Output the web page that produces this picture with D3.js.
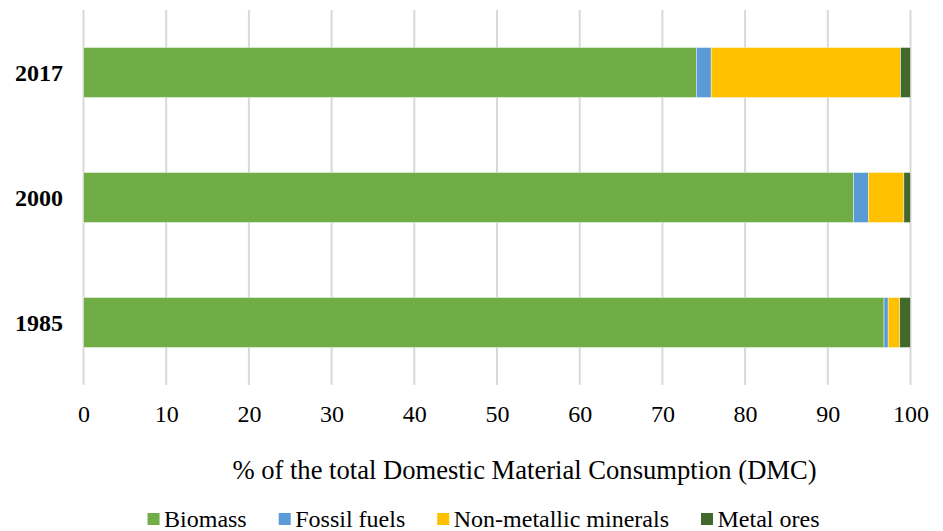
<!DOCTYPE html>
<html>
<head>
<meta charset="utf-8">
<script src="https://cdn.jsdelivr.net/npm/d3@7"></script>
<style>
  html, body { margin: 0; padding: 0; background: #fff; }
  svg { display: block; }
  text { font-family: "Liberation Serif", "Times New Roman", serif; fill: #000; }
</style>
</head>
<body>
<svg id="chart" width="943" height="531"></svg>
<script>
// ---- data ----
const years = ["2017", "2000", "1985"];
const seriesNames = ["Biomass", "Fossil fuels", "Non-metallic minerals", "Metal ores"];
const biomass     = [74.1, 93.1, 96.8];
const fossilFuels = [1.8, 1.8, 0.5];
const nonMetallic = [22.9, 4.3, 1.4];
const metalOres   = [1.2, 0.8, 1.3];
const tickValues  = [0, 10, 20, 30, 40, 50, 60, 70, 80, 90, 100];
const axisTitle   = "% of the total Domestic Material Consumption (DMC)";

// ---- styles ----
const colors = ["#70AD47", "#5B9BD5", "#FFC000", "#43682B"];
const FONT = '"Liberation Serif", "Times New Roman", serif';

const rows = years.map((y, i) => ({
  year: y,
  "Biomass": biomass[i],
  "Fossil fuels": fossilFuels[i],
  "Non-metallic minerals": nonMetallic[i],
  "Metal ores": metalOres[i]
}));

const svg = d3.select("#chart");
const plot = { left: 83.5, right: 910.5, top: 10, bottom: 385 };

const x = d3.scaleLinear().domain([0, 100]).range([plot.left, plot.right]);
const y = d3.scaleBand().domain(years).range([plot.top, plot.bottom])
  .paddingInner(0.6).paddingOuter(0.3);
const color = d3.scaleOrdinal().domain(seriesNames).range(colors);

// gridlines
svg.append("g").selectAll("line").data(tickValues).join("line")
  .attr("x1", d => x(d)).attr("x2", d => x(d))
  .attr("y1", plot.top).attr("y2", plot.bottom)
  .attr("stroke", "#d9d9d9").attr("stroke-width", 2);

// stacked bars
const stack = d3.stack().keys(seriesNames)(rows);
svg.append("g").selectAll("g").data(stack).join("g")
  .attr("fill", d => color(d.key))
  .selectAll("rect").data(d => d).join("rect")
  .attr("x", d => x(d[0]))
  .attr("width", d => x(d[1]) - x(d[0]))
  .attr("y", d => y(d.data.year))
  .attr("height", y.bandwidth())
  .attr("stroke", "#ffffff").attr("stroke-width", 0.6).attr("stroke-opacity", 0.7);

// x axis (labels only)
const xAxis = d3.axisBottom(x).tickValues(tickValues).tickSize(0).tickPadding(0);
const gx = svg.append("g").attr("transform", `translate(0,${plot.bottom})`).call(xAxis);
gx.attr("font-family", null).attr("font-size", null);
gx.select(".domain").remove();
gx.selectAll("text")
  .attr("dy", null).attr("y", 37)
  .style("font-family", FONT)
  .style("font-size", "24px").attr("fill", "#000");

// y axis (year labels)
const yAxis = d3.axisLeft(y).tickSize(0).tickPadding(0);
const gy = svg.append("g").attr("transform", `translate(63,0)`).call(yAxis);
gy.attr("font-family", null).attr("font-size", null);
gy.select(".domain").remove();
gy.selectAll("text")
  .attr("dy", null).attr("y", 8.5).attr("x", 0)
  .style("font-family", FONT)
  .style("font-size", "24px").style("font-weight", "bold").attr("fill", "#000");

// axis title
svg.append("text")
  .attr("x", 524.5).attr("y", 479)
  .attr("text-anchor", "middle")
  .style("font-size", "26.6px")
  .text(axisTitle);

// legend
const legend = svg.append("g");
const items = legend.selectAll("g").data(seriesNames).join("g");
items.append("rect")
  .attr("width", 12).attr("height", 12).attr("y", 513)
  .attr("fill", d => color(d));
items.append("text")
  .attr("x", 16.5).attr("y", 526.5)
  .style("font-size", "24px")
  .text(d => d);
const widths = [];
items.each(function() {
  const w = d3.select(this).select("text").node().getComputedTextLength();
  widths.push(16.5 + w);
});
const gap = 32;
const total = d3.sum(widths) + gap * (widths.length - 1);
let start = 483.5 - total / 2;
items.attr("transform", (d, i) => {
  const t = `translate(${start},0)`;
  start += widths[i] + gap;
  return t;
});
</script>
</body>
</html>
